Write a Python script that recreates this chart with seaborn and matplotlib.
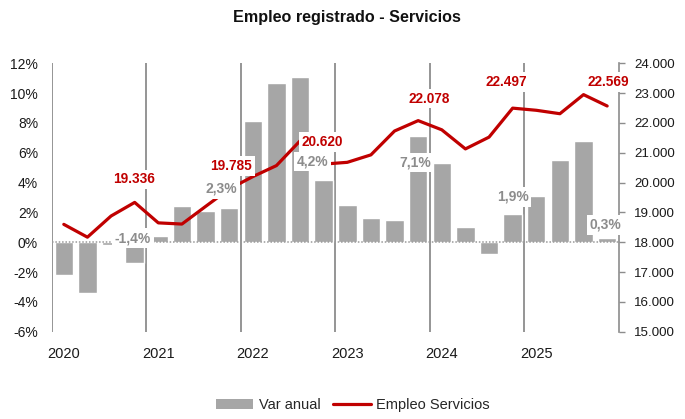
import numpy as np
import pandas as pd
import matplotlib
matplotlib.use("Agg")
import matplotlib.pyplot as plt
from matplotlib.ticker import FuncFormatter
from matplotlib.lines import Line2D
from matplotlib.patches import Patch
import seaborn as sns

# quarterly data 2020T1 .. 2025T4
years = ["2020", "2021", "2022", "2023", "2024", "2025"]
var_anual = [-2.2, -3.4, -0.2, -1.4, 0.4, 2.4, 2.1, 2.3,
             8.1, 10.7, 11.1, 4.2, 2.5, 1.6, 1.5, 7.1,
             5.3, 1.0, -0.8, 1.9, 3.1, 5.5, 6.8, 0.3]
empleo = [18600, 18170, 18880, 19336, 18650, 18610, 19200, 19785,
          20200, 20570, 21400, 20620, 20680, 20930, 21730, 22078,
          21770, 21130, 21525, 22497, 22425, 22310, 22950, 22569]
# labelled quarters (Q4 of each year)
lab_idx = [3, 7, 11, 15, 19, 23]

df = pd.DataFrame({"idx": range(len(var_anual)), "var": var_anual, "emp": empleo})

sns.set_style("white")
plt.rcParams["font.family"] = ["Liberation Sans", "DejaVu Sans"]

GRAY = "#A6A6A6"
RED = "#C00000"
AXC = "#8c8c8c"

fig = plt.figure(figsize=(6.85, 4.19), dpi=100)
ax = fig.add_axes([0.0759, 0.2083, 0.8277, 0.6406])

sns.barplot(data=df, x="idx", y="var", color=GRAY, width=0.78, saturation=1,
            ax=ax, zorder=2)
ax.set_xlim(-0.5, 23.5)
ax.set_ylim(-6, 12)
ax.axhline(0, color="#9a9a9a", lw=1.1, ls=(0, (1, 1.2)), zorder=3)
for k in range(len(years)):
    ax.axvline(4 * k - 0.5, color=AXC, lw=1.3, zorder=1)

ax.set_xticks([4 * k for k in range(len(years))])
ax.set_xticklabels(years)
ax.set_xlabel("")
ax.set_ylabel("")
ax.set_yticks(range(-6, 13, 2))
ax.yaxis.set_major_formatter(FuncFormatter(lambda v, p: f"{v:.0f}%"))
ax.tick_params(axis="x", length=0, pad=11, labelsize=10.5, colors="#1a1a1a")
ax.tick_params(axis="y", length=0, pad=10, labelsize=10, colors="#1a1a1a")
for s in ax.spines.values():
    s.set_visible(False)

ax2 = ax.twinx()
sns.lineplot(data=df, x="idx", y="emp", color=RED, lw=2.3, ax=ax2, zorder=4)
ax2.set_ylim(15000, 24000)
ax2.set_yticks(range(15000, 24001, 1000))
ax2.set_xlim(-0.5, 23.5)
ax2.set_ylabel("")
ax2.set_xlabel("")
ax2.yaxis.set_major_formatter(FuncFormatter(lambda v, p: f"{v:,.0f}".replace(",", ".")))
ax2.tick_params(axis="y", direction="out", length=4, width=1, color=AXC,
                pad=7, labelsize=9.6, labelcolor="#1a1a1a")
for side in ["top", "bottom", "left"]:
    ax2.spines[side].set_visible(False)
ax2.spines["right"].set_color(AXC)
ax2.spines["right"].set_linewidth(1.2)

box = dict(boxstyle="square,pad=0.2", fc="white", ec="none")

# offsets in pixels for the labels
emp_off = [(-1, 23), (2, 23), (-1, 22), (11, 22), (-6, 26), (1, 24)]
var_off = [(-2, 25), (-8, 19), (-11, 18), (-3, -26), (0, 17), (-2, 13)]

for i, (dx, dy) in zip(lab_idx, var_off):
    txt = f"{var_anual[i]:.1f}%".replace(".", ",")
    ax2.annotate(txt, xy=(i, var_anual[i]), xycoords=ax.transData,
                 xytext=(dx, dy), textcoords="offset pixels",
                 ha="center", va="center", fontsize=10, fontweight="bold",
                 color=AXC, bbox=box, zorder=6, annotation_clip=False)
for i, (dx, dy) in zip(lab_idx, emp_off):
    txt = f"{empleo[i]:,.0f}".replace(",", ".")
    ax2.annotate(txt, xy=(i, empleo[i]), xycoords="data",
                 xytext=(dx, dy), textcoords="offset pixels",
                 ha="center", va="center", fontsize=9.8, fontweight="bold",
                 color=RED, bbox=box, zorder=7, annotation_clip=False)

fig.text(0.507, 0.958, "Empleo registrado - Servicios", ha="center", va="center",
         fontsize=11.6, fontweight="bold", color="#111111")

handles = [Patch(facecolor=GRAY, edgecolor="none"),
           Line2D([0], [0], color=RED, lw=2.3)]
fig.legend(handles, ["Var anual", "Empleo Servicios"], loc="center",
           bbox_to_anchor=(0.515, 0.033), ncol=2, frameon=False, fontsize=10.5,
           handlelength=2.6, handleheight=0.6, columnspacing=0.9, handletextpad=0.35)

fig.savefig("out.png", dpi=100)
